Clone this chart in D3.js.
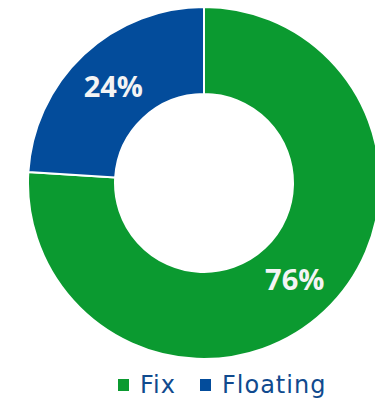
<!DOCTYPE html>
<html><head><meta charset="utf-8">
<script src="https://cdn.jsdelivr.net/npm/d3@7"></script>
<style>body{margin:0;background:#fff;overflow:hidden}</style>
</head><body>
<svg id="c" width="375" height="402"></svg>
<script>
const categories = ["Fix", "Floating"];
const values = [76, 24];
const colors = ["#0b9a30", "#034c9b"];

const svg = d3.select("#c");
const cx = 204, cy = 183, rOut = 176, rIn = 89;
const g = svg.append("g").attr("transform", `translate(${cx},${cy})`);
const pie = d3.pie().sort(null).value(d => d.v);
const arcs = pie(categories.map((c, i) => ({c, v: values[i], col: colors[i]})));
const arc = d3.arc().innerRadius(rIn).outerRadius(rOut);
g.selectAll("path").data(arcs).join("path")
  .attr("d", arc).attr("fill", d => d.data.col)
  .attr("stroke", "#fff").attr("stroke-width", 2);
const lab = d3.arc().innerRadius((rIn + rOut) / 2).outerRadius((rIn + rOut) / 2);
g.selectAll("text").data(arcs).join("text")
  .attr("transform", d => `translate(${lab.centroid(d)})`)
  .attr("text-anchor", "middle").attr("dy", "0.36em")
  .attr("fill", "#f4f4f4").attr("font-family", "Open Sans, sans-serif")
  .attr("font-weight", "bold").attr("font-size", 29)
  .text(d => d.data.v + "%");

const legend = svg.append("g");
const lx = [118, 200];
categories.forEach((c, i) => {
  legend.append("rect").attr("x", lx[i]).attr("y", 379).attr("width", 11).attr("height", 12).attr("fill", colors[i]);
  legend.append("text").attr("x", lx[i] + 22).attr("y", 393)
    .attr("font-family", "DejaVu Sans, sans-serif").attr("font-size", 24)
    .attr("letter-spacing", 1)
    .attr("fill", "#104a8e").text(c);
});
</script>
</body></html>
